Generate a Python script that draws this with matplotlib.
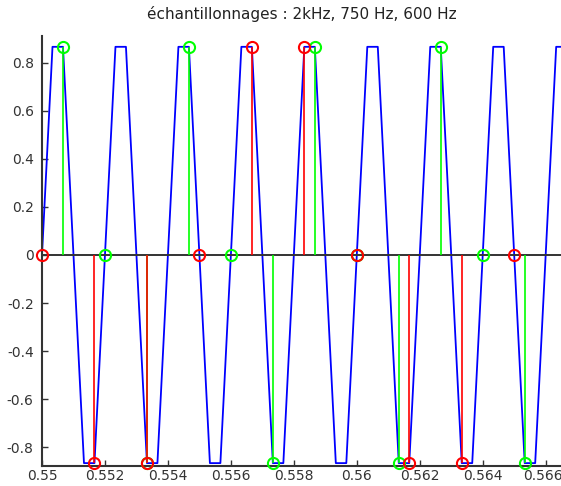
import numpy as np
import matplotlib
matplotlib.use("Agg")
import matplotlib.pyplot as plt
from matplotlib.transforms import ScaledTranslation

# 500 Hz sine, values at the 3 kHz sample grid
t0 = 0.55
fs_line = 3000.0
y_line = [0, 0.866, 0.866, 0, -0.866, -0.866] * 8 + [0, 0.866, 0.866]

# 750 Hz sampling (green)
t0_green = 0.550667
fs_green = 750.0
y_green = [0.866, 0, -0.866, 0.866, 0, -0.866, 0.866, 0, -0.866, 0.866, 0, -0.866]

# 600 Hz sampling (red)
t0_red = 0.55
fs_red = 600.0
y_red = [0, -0.866, -0.866, 0, 0.866, 0.866, 0, -0.866, -0.866, 0]

xticks = [0.55, 0.552, 0.554, 0.556, 0.558, 0.56, 0.562, 0.564, 0.566]
xticklabels = ["0.55", "0.552", "0.554", "0.556", "0.558", "0.56", "0.562", "0.564", "0.566"]
yticks = [-0.8, -0.6, -0.4, -0.2, 0, 0.2, 0.4, 0.6, 0.8]
yticklabels = ["-0.8", "-0.6", "-0.4", "-0.2", "0", "0.2", "0.4", "0.6", "0.8"]
title = "échantillonnages : 2kHz, 750 Hz, 600 Hz"

t_line = t0 + np.arange(len(y_line)) / fs_line
t_green = t0_green + np.arange(len(y_green)) / fs_green
t_red = t0_red + np.arange(len(y_red)) / fs_red

plt.rcParams['font.family'] = ['Liberation Sans Narrow', 'DejaVu Sans']

fig = plt.figure(figsize=(5.61, 4.86), dpi=100)
ax = fig.add_axes([42 / 561, 20 / 486, (561 - 42) / 561, (466 - 36) / 486])

ax.plot(t_line, y_line, color=(0, 0, 1), lw=1.3, zorder=2)
ax.axhline(0, color="#333333", lw=1.4, zorder=2.5)

for t, y, c in ((t_green, y_green, (0, 1, 0)), (t_red, y_red, (1, 0, 0))):
    ax.vlines(t, 0, y, color=c, lw=1.2, zorder=3)
    ax.plot(t, y, 'o', mfc='none', mec=c, ms=8, mew=1.5, zorder=4, clip_on=False)

ax.set_xlim(0.55, 0.55 + 519 / 31480)
ax.set_ylim(-0.878, 0.911)

ax.set_xticks(xticks)
ax.set_xticklabels(xticklabels)
ax.set_yticks(yticks)
ax.set_yticklabels(yticklabels)

for s in ("top", "right"):
    ax.spines[s].set_visible(False)
for s in ("left", "bottom"):
    ax.spines[s].set_color("#333333")
    ax.spines[s].set_linewidth(1.5)

ax.tick_params(direction="in", length=4, width=1, colors="#333333",
               labelsize=10, labelcolor="#333333")
ax.tick_params(axis="x", pad=2)
ax.tick_params(axis="y", pad=6)

# keep the last x label inside the figure edge
last = ax.get_xticklabels()[-1]
last.set_transform(last.get_transform() + ScaledTranslation(-3 / 100, 0, fig.dpi_scale_trans))

ax.set_title(title, fontsize=11, color="#222222", pad=12)

fig.savefig("out.png", dpi=100)
